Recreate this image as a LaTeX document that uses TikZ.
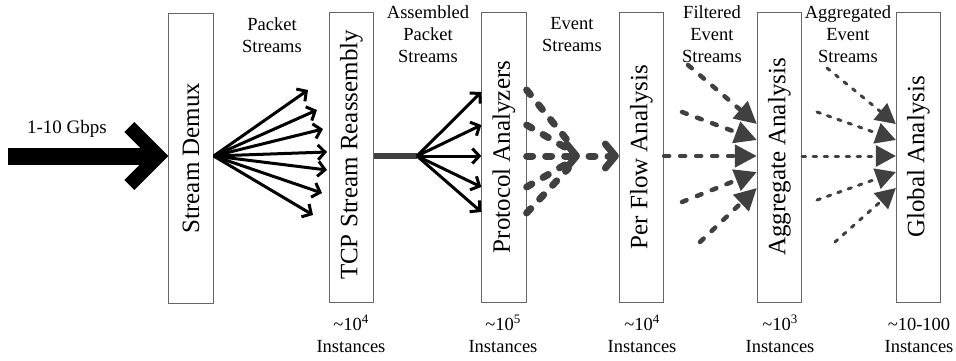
\documentclass[tikz,border=0pt]{standalone}
\usepackage{fontspec}
\setmainfont{Liberation Serif}
\usetikzlibrary{arrows.meta}
\definecolor{flowgray}{HTML}{404040}
\definecolor{boxedge}{HTML}{666666}
\tikzset{
  stage/.style={draw=boxedge, line width=0.8pt, minimum width=44.5pt, minimum height=290pt, inner sep=0pt},
  stagetext/.style={rotate=90, inner sep=0pt, font=\fontsize{25}{30}\selectfont},
  toplabel/.style={align=center, anchor=north, inner sep=0pt, font=\fontsize{18.5}{22}\selectfont},
  countlabel/.style={align=center, anchor=base, inner sep=0pt, font=\fontsize{18.5}{22}\selectfont},
  packet/.style={line width=3pt, -{Straight Barb[length=7pt,width=15pt]}},
  eventline/.style={flowgray, line width=7pt, line cap=round, dash pattern=on 6pt off 13pt},
  event/.style={eventline, -{Straight Barb[length=10pt,width=24pt,round]}},
  filtered/.style={flowgray, line width=4.5pt, line cap=round, dash pattern=on 5pt off 11pt,
    -{Triangle[length=22pt,width=22pt]}},
  aggregated/.style={flowgray, line width=3pt, line cap=round, dash pattern=on 3.5pt off 7.5pt,
    -{Triangle[length=20pt,width=21pt]}},
}
\begin{document}
\begin{tikzpicture}[x=1pt,y=-1pt]
\useasboundingbox (0,0) rectangle (956,361);

% processing stages
\node[stage] (demux) at (191,158) {};
\node[stage] (tcp)   at (351.5,157) {};
\node[stage] (proto) at (504,157) {};
\node[stage] (flow)  at (641.5,157) {};
\node[stage] (aggr)  at (779.5,157) {};
\node[stage] (glob)  at (918.5,157) {};

\node[stagetext] (demuxt) at (demux) {Stream Demux};
\node[stagetext] (tcpt)   at ([yshift=2pt]tcp) {TCP Stream Reassembly};
\node[stagetext] (protot) at (proto) {Protocol Analyzers};
\node[stagetext] (flowt)  at (flow) {Per Flow Analysis};
\node[stagetext] (aggrt)  at (aggr) {Aggregate Analysis};
\node[stagetext] (globt)  at (glob) {Global Analysis};

% stream labels
\node[toplabel] (l1) at (272,17) {Packet\\Streams};
\node[toplabel] (l2) at (428,5) {Assembled\\Packet\\Streams};
\node[toplabel] (l3) at (572,17) {Event\\Streams};
\node[toplabel] (l4) at (712,5) {Filtered\\Event\\Streams};
\node[toplabel] (l5) at (848,5) {Aggregated\\Event\\Streams};

% instance counts (base = last line)
\node[countlabel] (c1) at (351,352) {\textasciitilde10\textsuperscript{4}\\Instances};
\node[countlabel] (c2) at (503,352) {\textasciitilde10\textsuperscript{5}\\Instances};
\node[countlabel] (c3) at (642,352) {\textasciitilde10\textsuperscript{4}\\Instances};
\node[countlabel] (c4) at (780,352) {\textasciitilde10\textsuperscript{3}\\Instances};
\node[countlabel] (c5) at (919,352) {\textasciitilde10-100\\Instances};

% incoming link
\coordinate (in) at (8,156);
\coordinate (inTip) at (demux.west |- in);
\node[anchor=base, inner sep=0pt, font=\fontsize{19}{22}\selectfont] (rate) at (67,133) {1-10 Gbps};
\draw[line width=17pt] (in) -- ([xshift=-9pt]inTip);
\draw[line width=14pt, miter limit=10] ([shift={(-39,-29)}]inTip) -- ([xshift=-10pt]inTip) -- ([shift={(-39,29)}]inTip);

% demux fan-out
\coordinate (dOut) at (demux.east |- in);
\coordinate (p1) at (308,90);
\coordinate (p2) at (317,110);
\coordinate (p3) at (323,129);
\coordinate (p4) at (327,152);
\coordinate (p5) at (327,170);
\coordinate (p6) at (322,193);
\coordinate (p7) at (313,215);
\foreach \p in {p1,p2,p3,p4,p5,p6,p7} \draw[packet] (dOut) -- (\p);

% reassembled streams
\coordinate (hub) at (417,156);
\draw[flowgray, line width=6pt] (tcp.east |- in) -- (hub);
\foreach \y in {92,125,156,187,212} \draw[packet] (hub) -- (proto.west |- 0,\y);

% event streams merging into one
\coordinate (ev) at (580,156);
\foreach \y in {90,125,187,213} \draw[eventline, shorten >=17pt] (proto.east |- 0,\y) -- (ev);
\draw[event] (proto.east |- in) -- (ev);
\coordinate (ev2) at (589,156);
\draw[event] (ev2) -- (flow.west |- in);

% filtered event streams
\coordinate (f1) at (688,65);
\coordinate (f2) at (682,112);
\coordinate (f4) at (682,202);
\coordinate (f5) at (700,242);
\draw[filtered] (f1) -- (aggr.west |- 0,124);
\draw[filtered] (f2) -- (aggr.west |- 0,140);
\draw[filtered] (flow.east |- in) -- (aggr.west |- in);
\draw[filtered] (f4) -- (aggr.west |- 0,172);
\draw[filtered] (f5) -- (aggr.west |- 0,188);

% aggregated event streams
\coordinate (g1) at (827,68);
\coordinate (g2) at (817,112);
\coordinate (g4) at (817,200);
\coordinate (g5) at (835,242);
\draw[aggregated] (g1) -- (glob.west |- 0,124);
\draw[aggregated] (g2) -- (glob.west |- 0,140);
\draw[aggregated] (aggr.east |- in) -- (glob.west |- in);
\draw[aggregated] (g4) -- (glob.west |- 0,172);
\draw[aggregated] (g5) -- (glob.west |- 0,188);
\end{tikzpicture}
\end{document}
